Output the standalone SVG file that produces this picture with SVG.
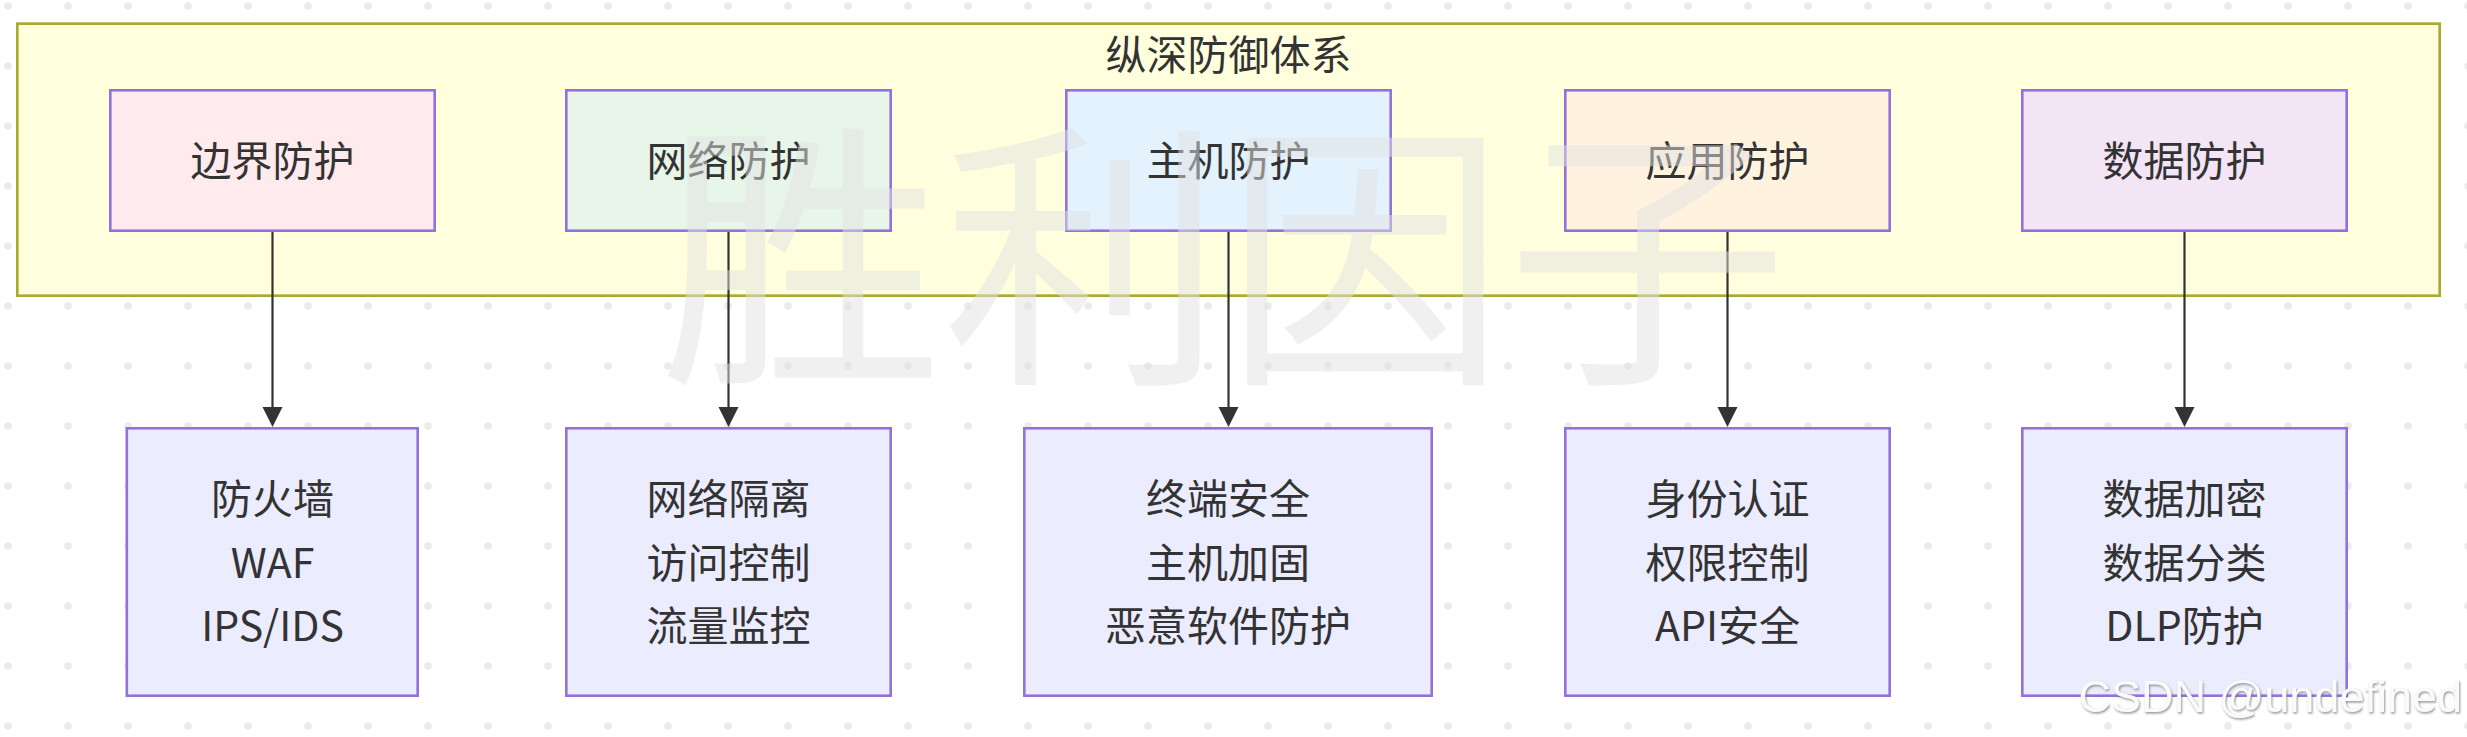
<svg xmlns="http://www.w3.org/2000/svg" width="2467" height="737" viewBox="0 0 2467 737">
<style>
.lbl{font-family:"Noto Sans CJK SC","Noto Sans",sans-serif;font-size:41px;fill:#333;text-anchor:middle}
.node{stroke:#9370db;stroke-width:2.6}
.sub{fill:#ececff}
.edge{stroke:#333;stroke-width:2.2;fill:none}
.wm{font-family:"Noto Sans CJK SC",sans-serif;font-size:282px;fill:#e2e2e2;fill-opacity:0.5;text-anchor:middle}
.csdn{font-family:"Liberation Sans",Arial,sans-serif;font-size:45px;fill:#fafafa;text-anchor:end}
</style>
<defs>
<pattern id="dots" patternUnits="userSpaceOnUse" width="60" height="60">
<circle cx="8" cy="6" r="3.8" fill="#ebebeb"/>
</pattern>
<marker id="arrow" viewBox="0 0 20 20" refX="0" refY="10" markerUnits="userSpaceOnUse" markerWidth="20" markerHeight="21" orient="auto">
<path d="M0,0 L20,10 L0,20 z" fill="#333"/>
</marker>
<filter id="shadow" x="-5%" y="-20%" width="110%" height="150%">
<feDropShadow dx="1" dy="1.5" stdDeviation="1" flood-color="#777" flood-opacity="0.8"/>
</filter>
</defs>
<rect width="2467" height="737" fill="#fff"/>
<rect width="2467" height="737" fill="url(#dots)"/>

<g id="cluster">
<rect x="17.3" y="23.7" width="2422.4" height="272" fill="#ffffde" stroke="#aaaa33" stroke-width="2.7"/>
<text class="lbl" x="1228.5" y="69.5">纵深防御体系</text>
</g>

<g id="edges">
<path class="edge" d="M272.5,232 L272.5,407" marker-end="url(#arrow)"/>
<path class="edge" d="M728.5,232 L728.5,407" marker-end="url(#arrow)"/>
<path class="edge" d="M1228.5,232 L1228.5,407" marker-end="url(#arrow)"/>
<path class="edge" d="M1727.5,232 L1727.5,407" marker-end="url(#arrow)"/>
<path class="edge" d="M2184.5,232 L2184.5,407" marker-end="url(#arrow)"/>
</g>

<g id="A">
<rect class="node" x="110.3" y="90.3" width="324.4" height="140.4" fill="#ffebee"/>
<text class="lbl" x="272.5" y="176">边界防护</text>
</g>
<g id="B">
<rect class="node" x="566.3" y="90.3" width="324.4" height="140.4" fill="#e8f5e9"/>
<text class="lbl" x="728.5" y="176">网络防护</text>
</g>
<g id="C">
<rect class="node" x="1066.3" y="90.3" width="324.4" height="140.4" fill="#e3f2fd"/>
<text class="lbl" x="1228.5" y="176">主机防护</text>
</g>
<g id="D">
<rect class="node" x="1565.3" y="90.3" width="324.4" height="140.4" fill="#fff3e0"/>
<text class="lbl" x="1727.5" y="176">应用防护</text>
</g>
<g id="E">
<rect class="node" x="2022.3" y="90.3" width="324.4" height="140.4" fill="#f3e5f5"/>
<text class="lbl" x="2184.5" y="176">数据防护</text>
</g>

<g id="A1">
<rect class="node sub" x="126.8" y="428.3" width="290.9" height="267.4"/>
<text class="lbl" x="272.5" y="514">防火墙</text>
<text class="lbl" x="272.5" y="577.5">WAF</text>
<text class="lbl" x="272.5" y="641">IPS/IDS</text>
</g>
<g id="B1">
<rect class="node sub" x="566.3" y="428.3" width="324.4" height="267.4"/>
<text class="lbl" x="728.5" y="514">网络隔离</text>
<text class="lbl" x="728.5" y="577.5">访问控制</text>
<text class="lbl" x="728.5" y="641">流量监控</text>
</g>
<g id="C1">
<rect class="node sub" x="1024.3" y="428.3" width="407.4" height="267.4"/>
<text class="lbl" x="1228" y="514">终端安全</text>
<text class="lbl" x="1228" y="577.5">主机加固</text>
<text class="lbl" x="1228" y="641">恶意软件防护</text>
</g>
<g id="D1">
<rect class="node sub" x="1565.3" y="428.3" width="324.4" height="267.4"/>
<text class="lbl" x="1727.5" y="514">身份认证</text>
<text class="lbl" x="1727.5" y="577.5">权限控制</text>
<text class="lbl" x="1727.5" y="641">API安全</text>
</g>
<g id="E1">
<rect class="node sub" x="2022.3" y="428.3" width="324.4" height="267.4"/>
<text class="lbl" x="2184.5" y="514">数据加密</text>
<text class="lbl" x="2184.5" y="577.5">数据分类</text>
<text class="lbl" x="2184.5" y="641">DLP防护</text>
</g>

<text class="wm" x="1224" y="363">胜利因子</text>
<text class="csdn" x="2462" y="712" filter="url(#shadow)">CSDN @undefined</text>
</svg>
